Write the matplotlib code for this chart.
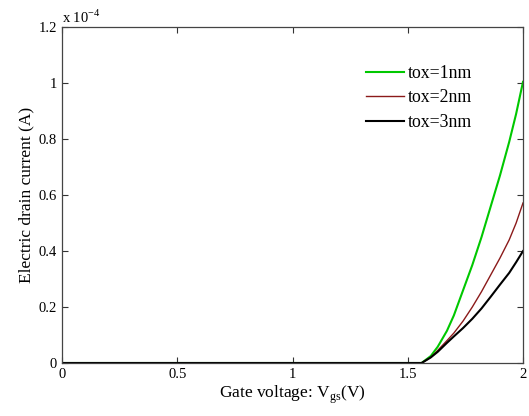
import matplotlib
matplotlib.use("Agg")
import matplotlib.pyplot as plt
import numpy as np

plt.rcParams['font.family'] = ['Liberation Serif', 'DejaVu Serif']
plt.rcParams['mathtext.fontset'] = 'custom'
plt.rcParams['mathtext.rm'] = 'Liberation Serif'

# Gate voltage samples (V)
vgs = [0.0, 0.5, 1.0, 1.5, 1.56, 1.60, 1.63, 1.67, 1.70, 1.74, 1.78, 1.82, 1.86, 1.90, 1.94, 1.97, 2.0]
# Drain current in units of 1e-4 A
i_tox1 = [0.0, 0.0, 0.0, 0.0, 0.0, 0.025, 0.058, 0.115, 0.17, 0.26, 0.35, 0.45, 0.56, 0.67, 0.79, 0.89, 1.005]
i_tox2 = [0.0, 0.0, 0.0, 0.0, 0.0, 0.020, 0.045, 0.080, 0.107, 0.150, 0.200, 0.255, 0.315, 0.375, 0.44, 0.50, 0.572]
i_tox3 = [0.0, 0.0, 0.0, 0.0, 0.0, 0.020, 0.040, 0.072, 0.095, 0.125, 0.158, 0.195, 0.237, 0.280, 0.322, 0.36, 0.40]
labels = ['tox=1nm', 'tox=2nm', 'tox=3nm']
colors = ['#00c800', '#8b1a1a', '#000000']

fig = plt.figure(figsize=(5.29, 4.16), dpi=100)
ax = fig.add_axes([62/529, 1 - 363/416, (523-62)/529, (363-27.3)/416])

for y, lab, c in zip([i_tox1, i_tox2, i_tox3], labels, colors):
    ax.plot(vgs, y, color=c, lw=1.5 if c != '#8b1a1a' else 1.0, label=lab)

ax.set_xlim(0, 2)
ax.set_ylim(0, 1.2)
ax.set_xticks([0, 0.5, 1, 1.5, 2])
ax.set_xticklabels(['0', '0.5', '1', '1.5', '2'])
ax.set_yticks([0, 0.2, 0.4, 0.6, 0.8, 1.0, 1.2])
ax.set_yticklabels(['0', '0.2', '0.4', '0.6', '0.8', '1', '1.2'])
ax.tick_params(direction='in', top=True, right=True, labelsize=10.5, length=4, width=0.8, color='#333333')
for s in ax.spines.values():
    s.set_linewidth(0.9)
    s.set_color('#444444')

ax.text(0.0, 1.005, r'x 10$^{-4}$', transform=ax.transAxes, fontsize=10.5, ha='left', va='bottom')
ax.set_xlabel(r'Gate voltage: V$_{\mathrm{gs}}$(V)', fontsize=12.5, labelpad=2)
ax.set_ylabel('Electric drain current (A)', fontsize=12.5, labelpad=3)

leg = fig.legend(loc='upper left', bbox_to_anchor=(366/529, 1 - 65/416), frameon=False, fontsize=12.8,
                 handlelength=2.15, handletextpad=0.2, labelspacing=0.42, borderaxespad=0.0, borderpad=0.0)

fig.savefig('out.png', dpi=100)
